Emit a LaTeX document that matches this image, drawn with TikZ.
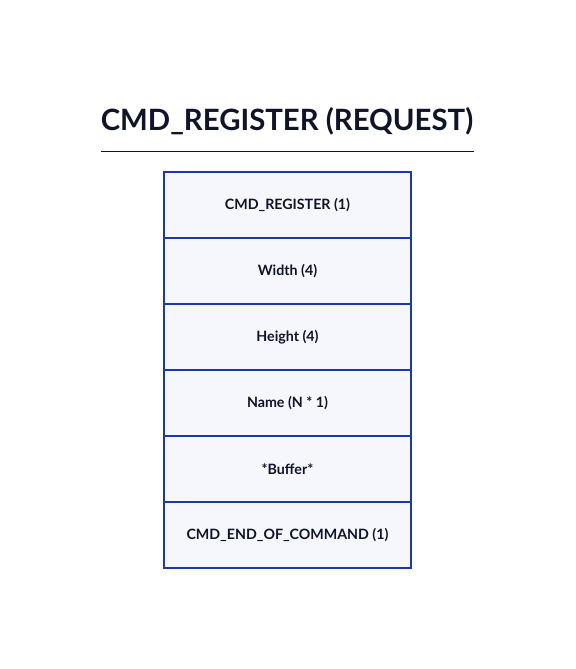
\documentclass[tikz,border=0pt]{standalone}
\usepackage{fontspec}
\setmainfont{Lato}
\usepackage{tikz}
\usetikzlibrary{positioning}

\definecolor{frameblue}{HTML}{1A3AA6}
\definecolor{cellfill}{HTML}{F5F7FC}
\definecolor{inkdark}{HTML}{0F1428}

\begin{document}
\begin{tikzpicture}[x=0.02cm, y=-0.02cm]
        % --- 1. Parameters ---
        \def\boxT{172}
        \def\rowH{66}

        \tikzset{
            field/.style={draw=frameblue, line width=1.1pt, fill=cellfill,
                minimum width=4.94cm, minimum height=1.32cm, inner sep=0pt, outer sep=0pt,
                text=inkdark, font=\bfseries\fontsize{8.1}{10}\selectfont},
        }

        % --- 2. Canvas ---
        \useasboundingbox[fill=white] (0,0) rectangle (575,669);

        % --- 3. Title ---
        \node[text=inkdark, font=\bfseries\fontsize{16.7}{20}\selectfont] (title) at (287,121) {CMD\_REGISTER (REQUEST)};
        \draw[inkdark, line width=0.6pt] (101,151.5) -- (474,151.5);

        % --- 4. Fields (stacked) ---
        \node[field] (f1) at (287.5,{\boxT+0.5*\rowH}) {CMD\_REGISTER (1)};
        \node[field, below=0pt of f1] (f2) {Width (4)};
        \node[field, below=0pt of f2] (f3) {Height (4)};
        \node[field, below=0pt of f3] (f4) {Name (N * 1)};
        \node[field, below=0pt of f4] (f5) {*Buffer*};
        \node[field, below=0pt of f5] (f6) {CMD\_END\_OF\_COMMAND (1)};
\end{tikzpicture}
\end{document}
